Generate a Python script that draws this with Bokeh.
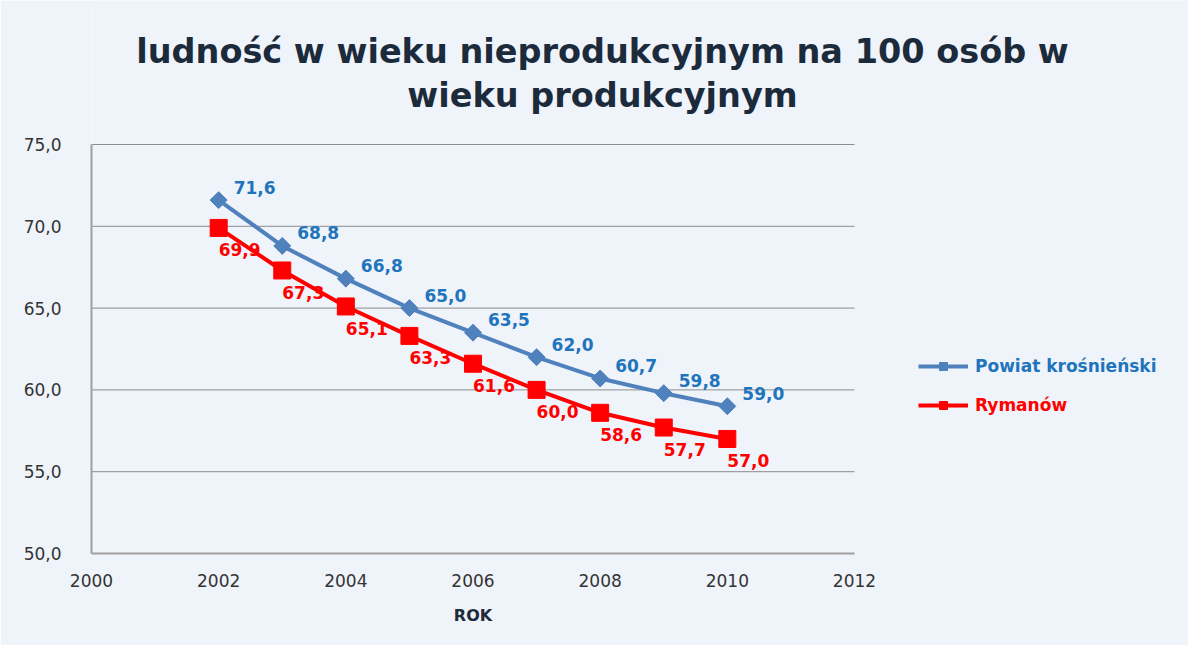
from bokeh.plotting import figure
from bokeh.models import Legend, LegendItem, FixedTicker, Range1d, Label, LinearAxis
from bokeh.core.properties import value
from bokeh.embed import file_html
from bokeh.resources import INLINE

# ---- data ----
years = [2002, 2003, 2004, 2005, 2006, 2007, 2008, 2009, 2010]
powiat = [71.6, 68.8, 66.8, 65.0, 63.5, 62.0, 60.7, 59.8, 59.0]
rymanow = [69.9, 67.3, 65.1, 63.3, 61.6, 60.0, 58.6, 57.7, 57.0]
series_names = ["Powiat krośnieński", "Rymanów"]
title_lines = ["ludność w wieku nieprodukcyjnym na 100 osób w", "wieku produkcyjnym"]
x_axis_title = "ROK"
x_ticks = [2000, 2002, 2004, 2006, 2008, 2010, 2012]
y_ticks = [50, 55, 60, 65, 70, 75]
y_tick_labels = ["50,0", "55,0", "60,0", "65,0", "70,0", "75,0"]


def fmt(v):
    return f"{v:.1f}".replace(".", ",")


# ---- layout (pixels in the picture) ----
W, H = 1188, 645
PLOT_L, PLOT_R, PLOT_T, PLOT_B = 91, 854, 144, 553   # visible plot area
X0, X1 = x_ticks[0], x_ticks[-1]
Y0, Y1 = y_ticks[0], y_ticks[-1]
xs = (PLOT_R - PLOT_L) / (X1 - X0)      # px per year
ys = (PLOT_B - PLOT_T) / (Y1 - Y0)      # px per unit
X_END = X1 + (W - PLOT_R) / xs          # frame extends to the right edge
Y_END = Y1 + PLOT_T / ys                # and up to the top edge


def px2x(px):
    return X0 + (px - PLOT_L) / xs


def px2y(py):
    return Y0 + (PLOT_B - py) / ys


BG = "#EFF3FA"
BLUE_LINE = "#4F81BD"
BLUE_TXT = "#1F75BD"
RED = "#FF0000"
FONT = "DejaVu Sans"

p = figure(width=W, height=H, output_backend="svg", toolbar_location=None,
           x_range=Range1d(X0, X_END), y_range=Range1d(Y0, Y_END),
           min_border_left=PLOT_L, min_border_right=0, min_border_top=0,
           min_border_bottom=H - PLOT_B)
p.background_fill_color = BG
p.border_fill_color = BG
p.outline_line_color = None

p.xaxis.ticker = FixedTicker(ticks=x_ticks)
p.yaxis.ticker = FixedTicker(ticks=y_ticks)
p.xaxis.bounds = (X0, X1)
p.yaxis.bounds = (Y0, Y1)
p.yaxis.major_label_overrides = {t: l for t, l in zip(y_ticks, y_tick_labels)}
for ax in (p.xaxis, p.yaxis):
    ax.axis_line_color = "#A0A0A0"
    ax.axis_line_width = 2
    ax.major_tick_line_color = None
    ax.minor_tick_line_color = None
    ax.major_label_text_font = FONT
    ax.major_label_text_font_size = "17px"
    ax.major_label_text_color = "#333333"
p.yaxis.major_label_standoff = 24
p.xaxis.major_label_standoff = 14

# axis title "ROK", centred under the plot area (second, line-less axis)
mid = (X0 + X1) / 2
title_axis = LinearAxis(ticker=FixedTicker(ticks=[mid]),
                        major_label_overrides={mid: x_axis_title},
                        axis_line_color=None, major_tick_line_color=None,
                        minor_tick_line_color=None, major_label_standoff=10,
                        major_label_text_font=FONT, major_label_text_font_style="bold",
                        major_label_text_font_size="16px",
                        major_label_text_color="#1F2A3A")
p.add_layout(title_axis, "below")

p.xgrid.grid_line_color = None
p.ygrid.grid_line_color = None
# horizontal grid lines limited to the plot area
p.segment(x0=[X0] * (len(y_ticks) - 1), x1=[X1] * (len(y_ticks) - 1),
          y0=y_ticks[1:], y1=y_ticks[1:], line_color="#8C8C8C", line_width=1)

# series
l1 = p.line(years, powiat, line_color=BLUE_LINE, line_width=4)
m1 = p.scatter(years, powiat, marker="square", angle=0.785398, size=12,
               fill_color=BLUE_LINE, line_color=BLUE_LINE)
l2 = p.line(years, rymanow, line_color=RED, line_width=4)
m2 = p.scatter(years, rymanow, marker="square", size=17, fill_color=RED, line_color=RED)

p.text(years, powiat, text=[fmt(v) for v in powiat], x_offset=15, y_offset=-13,
       text_align="left", text_baseline="middle", text_color=BLUE_TXT,
       text_font=value(FONT), text_font_style="bold", text_font_size="17px")
p.text(years, rymanow, text=[fmt(v) for v in rymanow], x_offset=21, y_offset=22,
       text_align="center", text_baseline="middle", text_color=RED,
       text_font=value(FONT), text_font_style="bold", text_font_size="17px")

# title
for txt, py in zip(title_lines, [50.5, 95.0]):
    p.add_layout(Label(x=px2x(602), y=px2y(py), text=txt, text_align="center",
                       text_baseline="alphabetic", text_font=FONT,
                       text_font_style="bold", text_font_size="33.5px",
                       text_color="#1C2B3C"))

# legends (one per series so that each label gets its own colour)
for name, rends, col, bottom in [(series_names[0], [l1, m1], BLUE_TXT, 376),
                                 (series_names[1], [l2, m2], RED, 415)]:
    lg = Legend(items=[LegendItem(label=name, renderers=rends)],
                location=(918 - PLOT_L, PLOT_B - bottom),
                glyph_width=50, glyph_height=20, label_height=20, label_standoff=7,
                padding=0, margin=0, spacing=0,
                border_line_color=None, background_fill_alpha=0,
                label_text_font=FONT, label_text_font_style="bold",
                label_text_font_size="17px", label_text_color=col)
    p.add_layout(lg)

open("out.html", "w").write(file_html(p, INLINE))
